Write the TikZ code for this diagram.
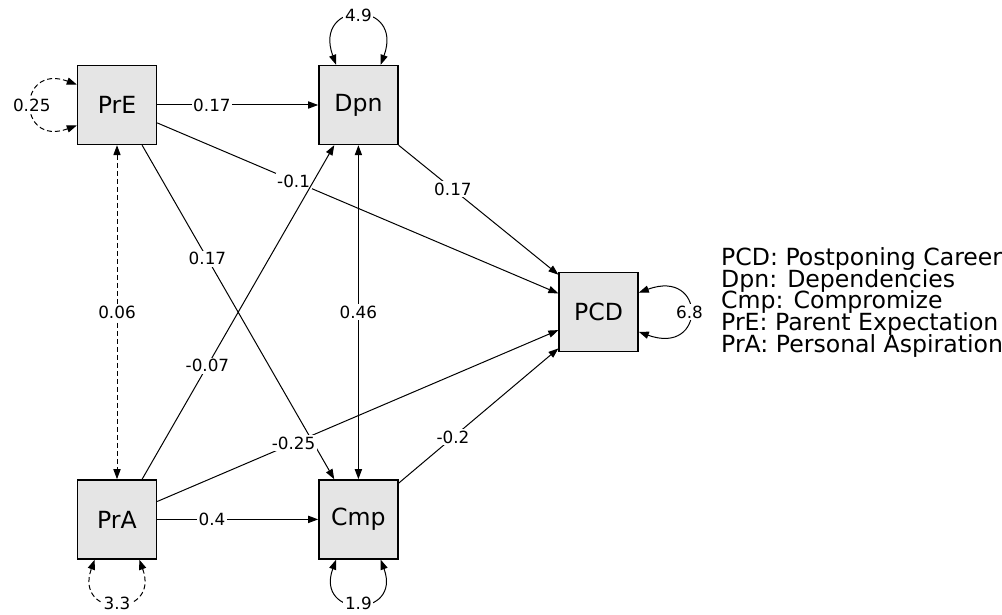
\documentclass[tikz,border=0pt]{standalone}
\usepackage{fontspec}
\setmainfont{DejaVu Sans}
\usetikzlibrary{arrows.meta,positioning,calc}
\newcommand\keyfont{\fontsize{11.8pt}{10.85pt}\selectfont\lineskiplimit=-20pt\relax}

\begin{document}
\begin{tikzpicture}[
    var/.style={rectangle, draw=black, line width=0.7pt, fill=black!10, minimum size=39.5pt, inner sep=0pt, font=\fontsize{11.8pt}{14pt}\selectfont},
    arrow/.style={-{Triangle[length=5pt,width=3.6pt]}, line width=0.5pt},
    cov/.style={{Triangle[length=5pt,width=3.6pt]}-{Triangle[length=5pt,width=3.6pt]}, line width=0.5pt},
    fixed/.style={dash pattern=on 2.5pt off 1.5pt},
    lbl/.style={fill=white, inner sep=0.8pt, font=\fontsize{8.4pt}{10pt}\selectfont}
]
\useasboundingbox (0,0) rectangle (501pt,-307.5pt);
\node[var] (pre) at (58.5pt,-52.5pt) {PrE};
\node[var, right=80.5pt of pre] (dpn) {Dpn};
\node[var, below=167pt of pre] (pra) {PrA};
\node[var, right=80.5pt of pra] (cmp) {Cmp};
\coordinate (mid) at ($(dpn)!0.5!(cmp)$);
\node[var, right=100pt of mid] (pcd) {PCD};
\node[right=41pt of pcd, yshift=5pt, inner sep=0pt, align=left, font=\keyfont] (key) {PCD: Postponing Career\\Dpn: Dependencies\\Cmp: Compromize\\PrE: Parent Expectation\\PrA: Personal Aspiration};

\draw[arrow] (pre) -- node[lbl, pos=0.34] {0.17} (dpn);
\draw[arrow] (pre.-24) -- node[lbl, pos=0.34] {-0.1} (pcd.155);
\draw[arrow] (pre.-58) -- node[lbl, pos=0.34] {0.17} (cmp.121);
\draw[arrow] (dpn.south east) -- node[lbl, pos=0.34] {0.17} (pcd.137);
\draw[arrow] (pra) -- node[lbl, pos=0.34] {0.4} (cmp);
\draw[arrow] (pra.58) -- node[lbl, pos=0.34] {-0.07} (dpn.239);
\draw[arrow] (pra.24) -- node[lbl, pos=0.34] {-0.25} (pcd.204);
\draw[arrow] (cmp.42) -- node[lbl, pos=0.34] {-0.2} (pcd.222);
\draw[cov] (dpn) -- node[lbl] {0.46} (cmp);
\draw[cov, fixed] (pre) -- node[lbl] {0.06} (pra);

\draw[cov] (dpn.119) to[out=110, in=70, looseness=4] node[lbl] {4.9} (dpn.61);
\draw[cov, fixed] (pre.207) to[out=200, in=160, looseness=4] node[lbl] {0.25} (pre.153);
\draw[cov, fixed] (pra.299) to[out=290, in=250, looseness=3.6] node[lbl] {3.3} (pra.241);
\draw[cov] (cmp.299) to[out=290, in=250, looseness=3.6] node[lbl] {1.9} (cmp.241);
\draw[cov] (pcd.-26) to[out=-20, in=20, looseness=4.7] node[lbl] {6.8} (pcd.26);
\end{tikzpicture}
\end{document}
